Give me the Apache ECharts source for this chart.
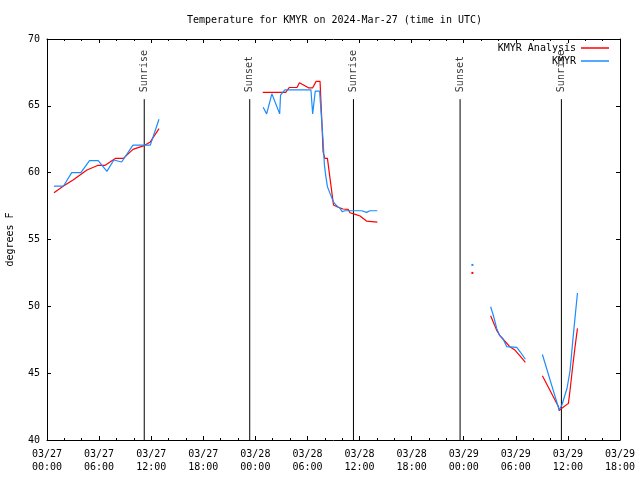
<!DOCTYPE html>
<html>
<head>
<meta charset="utf-8">
<script src="https://cdn.jsdelivr.net/npm/echarts@6/dist/echarts.min.js"></script>
<style>html,body{margin:0;padding:0;background:#fff}#c{width:640px;height:480px}</style>
</head>
<body>
<div id="c"></div>
<script>
// hours since 2024-03-27 00:00 UTC; null temperature = gap
const analysisHour = [0.8,1.9,3.0,4.6,5.9,6.7,7.9,8.8,9.9,11.1,11.9,12.9, 18,
  24.85,27.5,27.9,28.8,29.07,29.7,30.1,30.6,31.0,31.45,31.7,31.8,32.0,32.3,32.6,32.9,33.0,33.4,34.1,34.7,34.9,35.5,36.06,36.8,38.05, 42,
  49.0, 50,
  51.1,51.8,52.2,52.8,53.3,53.9,54.5,55.1, 56,
  57.06,58.9,59.0,59.3,60.06,60.25,60.55,60.8,61.1];
const analysisTemp = [58.5,59.0,59.45,60.2,60.55,60.55,61.07,61.07,61.74,62.0,62.3,63.3, null,
  66.0,66.0,66.37,66.37,66.72,66.5,66.35,66.35,66.83,66.83,63.2,61.56,61.07,61.07,59.57,58.08,57.58,57.45,57.28,57.25,57.0,56.88,56.76,56.38,56.3, null,
  52.5, null,
  49.3,48.2,47.78,47.35,46.98,46.73,46.28,45.81, null,
  44.8,42.5,42.2,42.37,42.74,43.74,45.5,46.86,48.35];

const obsHour = [0.8,1.9,2.85,3.9,4.9,5.9,6.9,7.7,8.6,9.9,11.9,12.9, 18,
  24.9,25.3,25.9,26.8,26.9,27.2,27.4,30.4,30.6,30.9,31.4,31.8,31.95,32.1,32.3,32.6,33.0,33.4,33.75,34.0,34.3,36.25,36.8,37.2,38.05, 42,
  49.0, 50,
  51.1,51.4,51.8,52.1,52.5,52.96,54.1,54.5,55.1, 56,
  57.06,59.0,59.1,59.3,59.9,60.25,60.6,61.1];
const obsTemp = [59.0,59.0,60.0,60.0,60.9,60.9,60.1,60.95,60.8,62.06,62.06,64.0, null,
  64.9,64.4,65.9,64.4,65.8,66.05,66.2,66.2,64.4,66.1,66.1,62.4,60.6,59.8,58.95,58.45,57.8,57.5,57.33,57.08,57.15,57.15,57.03,57.15,57.15, null,
  53.1, null,
  49.97,49.35,48.35,47.85,47.6,46.98,46.93,46.6,46.04, null,
  46.4,42.24,42.1,42.6,43.87,45.2,47.7,51.0];

const eventHour = [11.2, 23.35, 35.3, 47.58, 59.25];
const eventName = ['Sunrise', 'Sunset', 'Sunrise', 'Sunset', 'Sunrise'];

const seriesNames = ['KMYR Analysis', 'KMYR'];
const titleText = 'Temperature for KMYR on 2024-Mar-27 (time in UTC)';

const FONT = 'DejaVu Sans Mono';
const EVENT_TOP = 65.5;

function toData(hours, temps) {
  return hours.map((h, i) => [h, temps[i] === null ? '-' : temps[i]]);
}
function isolatedSet(temps) {
  const s = new Set();
  temps.forEach((v, i) => {
    if (v === null) return;
    const prev = i > 0 ? temps[i - 1] : null;
    const next = i < temps.length - 1 ? temps[i + 1] : null;
    if (prev === null && next === null) s.add(i);
  });
  return s;
}
const isoA = isolatedSet(analysisTemp);
const isoO = isolatedSet(obsTemp);

const eventLineData = [];
eventHour.forEach(h => {
  eventLineData.push([h, 40]);
  eventLineData.push([h, EVENT_TOP]);
  eventLineData.push([h, '-']);
});
const eventLabelData = eventHour.map((h, i) => ({ value: [h, EVENT_TOP], name: eventName[i] }));

function pad(n) { return (n < 10 ? '0' : '') + n; }
function fmtHour(v) {
  const day = 27 + Math.floor(v / 24);
  const hh = Math.round(v % 24);
  return '03/' + pad(day) + '\n' + pad(hh) + ':00';
}

const xCommon = {
  type: 'value', min: 0, max: 66, interval: 6,
  splitLine: { show: false },
  axisLine: { show: true, onZero: false, lineStyle: { color: '#000', width: 1 } },
  axisTick: { show: true, inside: true, length: 4, lineStyle: { color: '#000' } },
  minorTick: { show: true, splitNumber: 3, length: 2, lineStyle: { color: '#000' } },
  minorSplitLine: { show: false }
};
const yCommon = {
  type: 'value', min: 40, max: 70, interval: 5,
  splitLine: { show: false },
  axisLine: { show: true, onZero: false, lineStyle: { color: '#000', width: 1 } },
  axisTick: { show: true, inside: true, length: 4, lineStyle: { color: '#000' } }
};

const chart = echarts.init(document.getElementById('c'), null, { renderer: 'canvas' });
chart.setOption({
  animation: false,
  backgroundColor: '#fff',
  title: {
    text: titleText, left: 182, top: 10,
    textStyle: { fontFamily: FONT, fontSize: 10, fontWeight: 'normal', color: '#000' }
  },
  grid: { left: 47, right: 20, top: 39, bottom: 40, containLabel: false, outerBoundsMode: 'none' },
  legend: [
    { data: [seriesNames[0]], right: 31, top: 43, align: 'right', icon: 'rect', itemWidth: 28, itemHeight: 1.5,
      textStyle: { fontFamily: FONT, fontSize: 10, color: '#000' }, padding: 0 },
    { data: [seriesNames[1]], right: 31, top: 56, align: 'right', icon: 'rect', itemWidth: 28, itemHeight: 1.5,
      textStyle: { fontFamily: FONT, fontSize: 10, color: '#000' }, padding: 0 }
  ],
  xAxis: [
    Object.assign({}, xCommon, { position: 'bottom',
      axisLabel: { show: true, formatter: fmtHour, fontFamily: FONT, fontSize: 10, color: '#000', lineHeight: 13, margin: 8,
        showMinLabel: true, showMaxLabel: true } }),
    Object.assign({}, xCommon, { position: 'top', axisLabel: { show: false } })
  ],
  yAxis: [
    Object.assign({}, yCommon, { position: 'left',
      name: 'degrees F', nameLocation: 'middle', nameGap: 32, nameRotate: 90,
      nameTextStyle: { fontFamily: FONT, fontSize: 10, color: '#000' },
      axisLabel: { show: true, fontFamily: FONT, fontSize: 10, color: '#000', margin: 7 } }),
    Object.assign({}, yCommon, { position: 'right', axisLabel: { show: false } })
  ],
  series: [
    {
      name: 'events', type: 'line', data: eventLineData, connectNulls: false,
      showSymbol: false, silent: true,
      lineStyle: { color: '#000', width: 1 }, z: 1
    },
    {
      name: 'eventLabels', type: 'scatter', data: eventLabelData, symbolSize: 0, silent: true,
      label: { show: true, formatter: '{b}', rotate: 90, position: [0, -7], align: 'left', verticalAlign: 'middle',
        fontFamily: FONT, fontSize: 10, color: '#000' }
    },
    {
      name: seriesNames[0], type: 'line', data: toData(analysisHour, analysisTemp), connectNulls: false,
      color: '#ff0000', lineStyle: { color: '#ff0000', width: 1.2 },
      showSymbol: true, showAllSymbol: true, symbol: 'rect',
      symbolSize: (v, p) => isoA.has(p.dataIndex) ? 2 : 0,
      itemStyle: { color: '#ff0000' }, z: 3
    },
    {
      name: seriesNames[1], type: 'line', data: toData(obsHour, obsTemp), connectNulls: false,
      color: '#1a8cff', lineStyle: { color: '#1a8cff', width: 1.2 },
      showSymbol: true, showAllSymbol: true, symbol: 'rect',
      symbolSize: (v, p) => isoO.has(p.dataIndex) ? 2 : 0,
      itemStyle: { color: '#1a8cff' }, z: 4
    }
  ]
});
</script>
</body>
</html>
